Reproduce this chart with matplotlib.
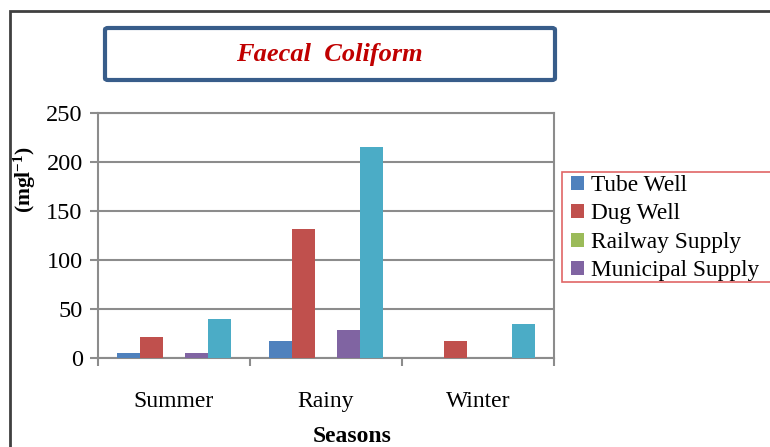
import matplotlib
matplotlib.use('Agg')
import matplotlib.pyplot as plt
import numpy as np
from matplotlib.patches import Rectangle, FancyBboxPatch

plt.rcParams['font.family'] = 'Liberation Serif'
plt.rcParams['mathtext.fontset'] = 'custom'
plt.rcParams['mathtext.rm'] = 'Liberation Serif'
plt.rcParams['mathtext.bf'] = 'Liberation Serif:bold'

seasons = ['Summer', 'Rainy', 'Winter']
tube_well = [5, 17, 0]
dug_well = [21, 132, 17]
railway_supply = [0, 0, 0]
municipal_supply = [5, 29, 0]
fifth_source = [40, 215, 35]

series = [
    ('Tube Well', tube_well, '#4F81BD'),
    ('Dug Well', dug_well, '#C0504D'),
    ('Railway Supply', railway_supply, '#9BBB59'),
    ('Municipal Supply', municipal_supply, '#8064A2'),
    (None, fifth_source, '#4BACC6'),
]

W, H = 770, 447
fig = plt.figure(figsize=(W / 100, H / 100), dpi=100)
ax = fig.add_axes([98 / W, 1 - 358 / H, 456 / W, 245 / H])

x = np.arange(len(seasons))
width = 0.151
handles = []
for i, (name, vals, color) in enumerate(series):
    bars = ax.bar(x + (i - 2) * width, vals, width, color=color,
                  edgecolor='none', zorder=3)
    if name:
        handles.append((bars, name))

grid_c = '#8C8C8C'
ax.set_ylim(0, 250)
ax.set_xlim(-0.5, 2.5)
ax.set_yticks(range(0, 251, 50))
ax.yaxis.grid(True, color=grid_c, linewidth=1.5, zorder=0)
for s in ax.spines.values():
    s.set_color(grid_c)
    s.set_linewidth(1.5)

ax.set_xticks(x)
ax.set_xticklabels(seasons)
ax.set_xticks([-0.5, 0.5, 1.5, 2.5], minor=True)
ax.tick_params(axis='x', which='major', length=0, pad=24, labelsize=17)
ax.tick_params(axis='x', which='minor', length=6, width=1.5, color=grid_c)
ax.tick_params(axis='y', length=6, width=1.5, color=grid_c, pad=5,
               labelsize=17.5)

# y label sits higher than the axes centre
fig.text(25 / W, 1 - 180 / H, r'$\mathbf{(mgl^{-1})}$', rotation=90,
         ha='center', va='center', fontsize=15.5)
fig.text(352 / W, 1 - 437 / H, 'Seasons', ha='center', va='center',
         fontsize=17, fontweight='bold')

# legend frame runs off the right edge
fig.patches.append(Rectangle((562 / W, 1 - 282 / H), 300 / W, 110 / H,
                             transform=fig.transFigure, facecolor='white',
                             edgecolor='#E06666', linewidth=1.2))
leg = fig.legend([h for h, _ in handles], [n for _, n in handles],
                 loc='upper left', bbox_to_anchor=(571 / W, 1 - 175 / H),
                 fontsize=16.8, frameon=False,
                 handlelength=0.55, handleheight=0.55, handletextpad=0.3,
                 labelspacing=0.32, borderpad=0, borderaxespad=0)

# title box
fig.patches.append(FancyBboxPatch((105 / W, 1 - 80 / H), 450 / W, 52 / H,
                                  boxstyle='round,pad=0,rounding_size=0.004',
                                  transform=fig.transFigure, fill=False,
                                  edgecolor='#385D8A', linewidth=3))
fig.text(329 / W, 1 - 55 / H, 'Faecal  Coliform', ha='center', va='center',
         fontsize=19, fontweight='bold', fontstyle='italic', color='#C00000')

# outer frame
fig.patches.append(Rectangle((10 / W, -0.1), 1.1, 1.1 - 11 / H,
                             transform=fig.transFigure, fill=False,
                             edgecolor='#404040', linewidth=2))

fig.savefig('out.png', dpi=100)
